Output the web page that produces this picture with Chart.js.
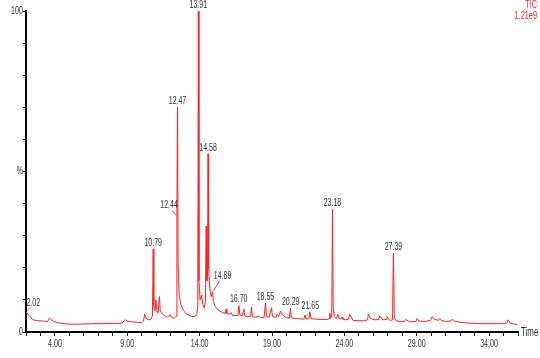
<!DOCTYPE html>
<html>
<head>
<meta charset="utf-8">
<script src="https://cdn.jsdelivr.net/npm/chart.js@4"></script>
<style>
  html, body { margin: 0; padding: 0; background: #fff; }
  #wrap { width: 540px; height: 358px; }
</style>
</head>
<body>
<div id="wrap"><canvas id="c" width="540" height="358"></canvas></div>
<script>
// ---- DATA ----
const times = [
  2.00, 2.02, 2.12, 2.30, 2.50, 2.80, 3.20, 3.50, 3.58, 3.63,
  3.72, 3.90, 4.30, 4.80, 5.40, 6.00, 6.60, 7.20, 7.80, 8.30,
  8.65, 8.80, 8.88, 9.00, 9.30, 9.70, 10.00, 10.12, 10.20, 10.30,
  10.45, 10.62, 10.74, 10.79, 10.83, 10.90, 10.98, 11.04, 11.14, 11.22,
  11.28, 11.42, 11.60, 11.80, 11.95, 12.05, 12.25, 12.38, 12.43, 12.47,
  12.51, 12.58, 12.70, 12.90, 13.10, 13.35, 13.60, 13.80, 13.87, 13.91,
  13.95, 14.03, 14.14, 14.22, 14.32, 14.40, 14.45, 14.50, 14.55, 14.58,
  14.62, 14.70, 14.80, 14.89, 14.95, 15.05, 15.20, 15.40, 15.60, 15.78,
  15.83, 15.88, 16.05, 16.20, 16.26, 16.45, 16.65, 16.71, 16.78, 16.95,
  17.06, 17.12, 17.35, 17.53, 17.58, 17.64, 17.85, 18.09, 18.20, 18.45,
  18.55, 18.62, 18.80, 18.97, 19.03, 19.25, 19.36, 19.45, 19.59, 19.75,
  20.00, 20.20, 20.28, 20.34, 20.60, 20.90, 21.20, 21.28, 21.35, 21.55,
  21.62, 21.70, 22.00, 22.40, 22.80, 22.96, 23.00, 23.05, 23.13, 23.18,
  23.23, 23.30, 23.45, 23.56, 23.62, 23.75, 23.84, 23.90, 24.10, 24.30,
  24.36, 24.60, 25.00, 25.40, 25.60, 25.66, 25.80, 26.10, 26.38, 26.44,
  26.65, 26.88, 26.94, 27.15, 27.33, 27.39, 27.45, 27.60, 27.90, 28.15,
  28.22, 28.50, 28.95, 29.03, 29.15, 29.60, 29.95, 30.07, 30.20, 30.50,
  30.60, 30.70, 31.00, 31.35, 31.45, 31.60, 32.00, 32.50, 33.00, 33.50,
  34.00, 34.60, 35.10, 35.25, 35.32, 35.45, 35.70, 35.95
];
const intensity = [
  5.9, 6.2, 5.6, 4.6, 3.8, 3.5, 3.4, 3.3, 4.0, 4.4,
  3.9, 3.3, 2.8, 2.5, 2.4, 2.5, 2.6, 2.6, 2.7, 2.6,
  2.8, 3.6, 3.8, 3.4, 3.2, 3.0, 2.9, 3.4, 5.6, 4.3,
  3.8, 4.0, 5.0, 25.9, 8.5, 6.5, 10.0, 6.3, 6.0, 11.0,
  6.6, 5.6, 5.0, 4.6, 5.4, 4.5, 4.3, 4.9, 36.0, 70.0,
  22.0, 11.5, 8.6, 6.6, 5.6, 5.0, 4.8, 5.3, 8.0, 100.0,
  16.0, 10.0, 11.5, 8.6, 7.5, 9.5, 33.0, 16.0, 19.0, 55.5,
  20.0, 13.5, 11.0, 12.5, 9.5, 8.2, 7.2, 6.5, 6.0, 5.8,
  7.2, 5.8, 5.5, 6.0, 5.2, 5.1, 5.2, 8.2, 5.4, 5.0,
  7.2, 5.0, 4.8, 4.8, 7.8, 4.8, 4.6, 5.0, 4.5, 4.5,
  8.9, 4.8, 4.6, 7.6, 4.8, 4.5, 5.5, 4.8, 6.5, 5.2,
  4.5, 4.3, 7.4, 4.4, 4.2, 4.1, 4.0, 5.3, 4.1, 4.1,
  6.3, 4.2, 4.0, 3.9, 3.9, 4.2, 5.8, 4.2, 5.0, 38.2,
  8.0, 4.8, 4.2, 5.5, 4.3, 4.1, 4.6, 4.0, 3.8, 4.0,
  5.5, 3.6, 3.5, 3.5, 3.8, 5.6, 4.2, 3.8, 3.9, 5.0,
  3.8, 3.9, 4.8, 3.6, 3.8, 24.5, 4.5, 3.4, 3.3, 3.3,
  3.9, 3.2, 3.3, 4.2, 3.4, 3.3, 3.6, 4.8, 4.0, 3.6,
  4.2, 3.6, 3.3, 3.4, 4.0, 3.4, 3.0, 2.8, 2.7, 2.6,
  2.6, 2.6, 2.6, 2.9, 3.8, 2.8, 2.5, 2.3
];
const peakTimes  = [2.02, 10.79, 12.44, 12.47, 13.91, 14.58, 14.89, 16.70, 18.55, 20.29, 21.65, 23.18, 27.39];
const peakValues = [6.2, 25.9, 36.0, 70.0, 100.0, 55.5, 12.5, 8.2, 8.9, 7.4, 6.3, 38.2, 24.5];
const xLabelTicks = [4, 9, 14, 19, 24, 29, 34];
const yLabelTicks = {0: '0', 50: '%', 100: '100'};
const traceName = 'TIC';
const traceScale = '1.21e9';
const xAxisTitle = 'Time';

// ---- STYLE ----
const FONT = '"Liberation Sans", Arial, sans-serif';
const TEXT = '#2e2e3a';
const SQUEEZE = 0.7;
const leaderOffsets = {
  '2.02':  { dx: 7,  dy: -9 },
  '12.44': { dx: -8, dy: -11 },
  '14.89': { dx: 10, dy: -16 }
};

function narrowText(ctx, str, x, y, align, baseline, squeeze) {
  ctx.save();
  ctx.translate(x, y);
  ctx.scale(squeeze || SQUEEZE, 1);
  ctx.textAlign = align;
  ctx.textBaseline = baseline;
  ctx.fillText(str, 0, 0);
  ctx.restore();
}

const points = times.map((t, i) => ({ x: t, y: intensity[i] }));

const annotate = {
  id: 'annotate',
  afterDraw(chart) {
    const ctx = chart.ctx;
    const xs = chart.scales.x, ys = chart.scales.y;
    const area = chart.chartArea;
    ctx.save();
    // axis tick labels
    ctx.font = '10.5px ' + FONT;
    ctx.fillStyle = TEXT;
    xLabelTicks.forEach(v => {
      narrowText(ctx, v.toFixed(2), xs.getPixelForValue(v), area.bottom + 12, 'center', 'middle', 0.68);
    });
    Object.keys(yLabelTicks).forEach(k => {
      narrowText(ctx, yLabelTicks[k], area.left - 3, ys.getPixelForValue(+k), 'right', 'middle', 0.68);
    });
    // peak labels
    ctx.font = '10px ' + FONT;
    ctx.strokeStyle = '#555';
    ctx.lineWidth = 0.8;
    peakTimes.forEach((t, i) => {
      const lbl = t.toFixed(2);
      const px = xs.getPixelForValue(t);
      const py = ys.getPixelForValue(peakValues[i]);
      const off = leaderOffsets[lbl];
      if (off) {
        const lx = px + off.dx, ly = py + off.dy;
        narrowText(ctx, lbl, lx, ly, 'center', 'middle');
        ctx.beginPath();
        const sx = off.dx > 0 ? 1 : -1;
        ctx.moveTo(px + sx * 1, py - 1);
        ctx.lineTo(lx - sx * 3, ly + 5);
        ctx.stroke();
      } else {
        narrowText(ctx, lbl, px, py - 1, 'center', 'bottom');
      }
    });
    // trace name + scale
    ctx.fillStyle = '#ff2020';
    ctx.font = '10.5px ' + FONT;
    narrowText(ctx, traceName, 537, 5, 'right', 'middle');
    narrowText(ctx, traceScale, 537, 16, 'right', 'middle');
    // axis title
    ctx.fillStyle = TEXT;
    ctx.font = '12px ' + FONT;
    narrowText(ctx, xAxisTitle, area.right + 3, ys.getPixelForValue(0) + 1, 'left', 'middle', 0.66);
    ctx.restore();
  }
};

new Chart(document.getElementById('c'), {
  type: 'line',
  data: {
    datasets: [{
      data: points,
      borderColor: 'rgb(255,30,30)',
      borderWidth: 1,
      pointRadius: 0,
      tension: 0,
      fill: false
    }]
  },
  options: {
    responsive: false,
    animation: false,
    devicePixelRatio: 1,
    layout: { padding: { top: 11, right: 22, left: 0, bottom: 0 } },
    plugins: { legend: { display: false }, tooltip: { enabled: false } },
    scales: {
      x: {
        type: 'linear',
        min: 2, max: 36,
        afterFit(s) { s.height = 26; },
        border: { display: true, color: '#000', width: 2 },
        grid: { drawOnChartArea: false, drawTicks: true, tickLength: 4, color: '#000', tickWidth: 1 },
        ticks: { stepSize: 1, autoSkip: false, maxRotation: 0, display: false }
      },
      y: {
        min: 0, max: 100,
        afterFit(s) { s.width = 26; },
        border: { display: true, color: '#000', width: 2 },
        grid: { drawOnChartArea: false, drawTicks: true, tickLength: 3, color: '#000', tickWidth: 1 },
        ticks: { stepSize: 10, autoSkip: false, display: false }
      }
    }
  },
  plugins: [annotate]
});
</script>
</body>
</html>
